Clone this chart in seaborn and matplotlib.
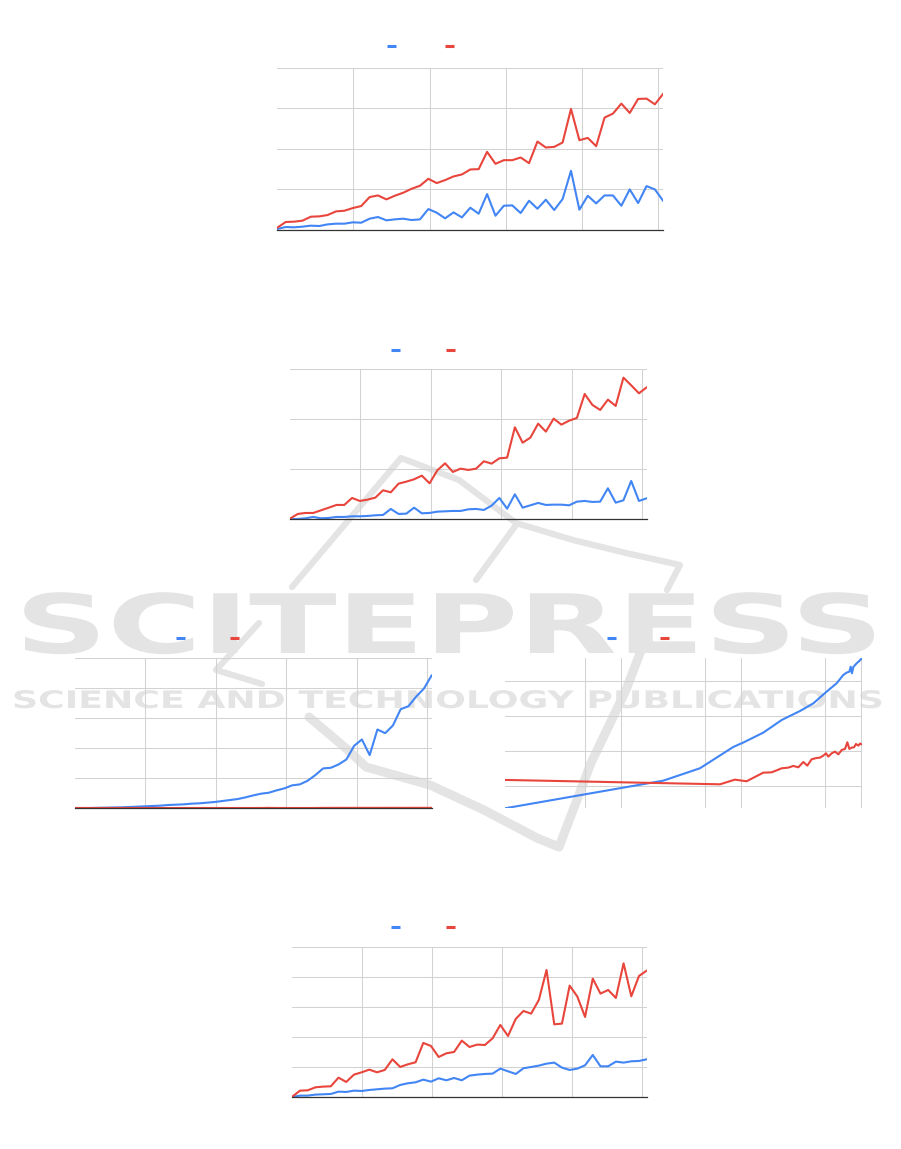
import numpy as np
import pandas as pd
import matplotlib
matplotlib.use("Agg")
import matplotlib.pyplot as plt
from matplotlib.lines import Line2D
from matplotlib.patheffects import AbstractPathEffect
from matplotlib.ticker import NullLocator
from matplotlib.transforms import Affine2D
import seaborn as sns

W, H = 901, 1149
BLUE = "#4285f4"
RED = "#e8453c"
GRID = "#d2d2d2"
MARK = "#e4e4e4"
GRID_STEP = 9.08          # vertical gridline spacing, in points along x

# ---- data ----
p1_blue = [2.5, 7.4, 6.6, 8.2, 10.7, 9.8, 13.9, 15.6, 15.6, 18.9, 18.0, 27.9, 32.0, 23.8, 26.2, 27.9,
           24.6, 26.2, 51.6, 42.6, 28.7, 43.4, 31.1, 54.9, 40.2, 88.5, 35.2, 59.8, 60.7, 41.8, 72.1, 52.5,
           74.6, 49.2, 76.2, 145.9, 50.0, 84.4, 65.6, 85.2, 85.2, 59.8, 100.0, 66.4, 108.2, 100.0, 71.3]
p1_red = [5.7, 19.7, 20.5, 23.0, 32.8, 33.6, 36.9, 45.9, 47.5, 54.1, 59.0, 81.1, 85.2, 75.4, 84.4, 91.8,
          101.6, 109.0, 126.2, 115.6, 123.0, 132.0, 136.9, 149.2, 150.0, 192.6, 163.1, 172.1, 172.1, 178.7,
          164.8, 218.0, 203.3, 204.9, 215.6, 298.4, 221.3, 227.0, 206.6, 277.0, 286.9, 311.5, 288.5, 323.0,
          323.8, 309.8, 336.0]

p2_blue = [0, 0.7, 2, 4.7, 2, 2.7, 4.7, 4.7, 6, 6, 6.7, 8, 8.7, 20.7, 10.7, 11.3, 23.3, 12, 12.7, 15.3,
           16, 16.7, 16.7, 20, 20.7, 18.7, 27.3, 42.7, 21.3, 50, 23.3, 28, 32.7, 28.7, 29.3, 29.3, 28, 35.3,
           36.7, 34.7, 35.3, 62, 33.3, 38, 76.7, 36.7, 42]
p2_red = [1.3, 10.7, 12.7, 12.7, 18, 23.3, 28.7, 28.7, 42.7, 36.7, 39.3, 43.3, 58, 54, 71.3, 75.3, 80,
          87.3, 72, 98, 112, 94.7, 101.3, 98.7, 101.3, 116, 111.3, 122, 123.3, 184, 153.3, 163.3, 191.3,
          175.3, 201.3, 189.3, 197.3, 202.7, 250.7, 228.7, 218.7, 239.3, 226.7, 283.3, 268, 252, 264]

p3_blue = [0, 0, 0, 0.6, 1.1, 1.7, 2.2, 3.3, 4.4, 5.6, 6.7, 7.8, 10, 11.1, 12.2, 14.4, 15.6, 17.8, 20,
           23.3, 26.7, 30, 35.6, 42.2, 47.8, 51.1, 58.9, 65.6, 75.6, 78.9, 91.1, 110, 132.2, 134.4, 145.6,
           162.2, 207.8, 228.9, 176.7, 262.2, 250, 275.6, 330, 340, 372.2, 398.9, 443.3]
p3_red = [0, 0, 0, 0, 0, 0, 0, 0, 0, 0, 0, 0, 0, 0, 0, 0, 0, 0, 0, 0, 0, 0, 0, 0, 0, 0.5, 0, 0, 0, 0,
          0, 0, 0.4, 0.4, 0.5, 0.4, 0.5, 0.5, 0.4, 0.5, 0.5, 0.6, 0.5, 0.5, 0.6, 0.5, 0.6]

p4_blue_x = [1.08, 22.5, 45.4, 86.1, 104, 153, 218, 310, 400, 516, 625, 711, 758, 798, 818, 839, 861,
             918, 966, 1011]
p4_blue_y = [2.35, 14.5, 32.7, 133, 177, 341, 785, 1419, 2350, 5070, 8770, 15200, 17700, 18900, 26200,
             16900, 25700, 32700, 38100, 45400]
p4_red_x = [1.08, 66.7, 88.9, 111, 153, 180, 218, 247, 272, 300, 330, 356, 387, 426, 454, 484, 510, 533,
            569, 606, 646, 689, 734, 768, 798, 834, 873, 906, 948, 979, 1011]
p4_red_y = [15.2, 11.4, 15.5, 13.9, 24.5, 25.1, 32.7, 34.1, 38.1, 34.9, 49.5, 38.9, 59.1, 64.5, 65.9,
            75.2, 87.7, 70.5, 87.7, 97.8, 82, 109, 117, 181, 117, 127, 130, 162, 145, 166, 158]

p5_blue = [1.1, 5.6, 5.6, 8.9, 10, 11.1, 18.9, 17.8, 22.2, 21.1, 24.4, 26.7, 28.9, 30, 41.1, 46.7, 50,
           58.9, 52.2, 63.3, 56.7, 64.4, 56.7, 72.2, 75.6, 77.8, 78.9, 95.6, 86.7, 77.8, 96.7, 101.1, 105.6,
           112.2, 115.6, 98.9, 91.1, 95.6, 106.7, 141.1, 103.3, 103.3, 118.9, 115.6, 120, 121.1, 126.7]
p5_red = [2.2, 22.2, 23.3, 33.3, 35.6, 36.7, 65.6, 51.1, 75.6, 83.3, 92.2, 83.3, 91.1, 126.7, 101.1, 110,
          116.7, 181.1, 171.1, 134.4, 146.7, 151.1, 188.9, 167.8, 175.6, 174.4, 196.7, 241.1, 204.4, 261.1,
          287.8, 278.9, 324.4, 424.4, 243.3, 245.6, 372.2, 335.6, 267.8, 395.6, 345.6, 357.8, 331.1, 446.7,
          336.7, 404.4, 422.2]

sns.set_style("white")
plt.rcParams["font.family"] = ["DejaVu Sans"]

fig = plt.figure(figsize=(W / 100, H / 100), dpi=100)


class Stretch(AbstractPathEffect):
    """Widen glyphs horizontally around a fixed x (display px)."""

    def __init__(self, sx, x0):
        super().__init__()
        self.sx, self.x0 = sx, x0

    def draw_path(self, renderer, gc, tpath, affine, rgbFace=None):
        affine = affine + Affine2D().translate(-self.x0, 0).scale(self.sx, 1).translate(self.x0, 0)
        renderer.draw_path(gc, tpath, affine, rgbFace)


def px_axes(left, top, right, bottom):
    ax = fig.add_axes([left / W, 1 - bottom / H, (right - left) / W, (bottom - top) / H])
    ax.patch.set_alpha(0)
    return ax


def style(ax, baseline=True):
    ax.set_xlabel("")
    ax.set_ylabel("")
    ax.tick_params(length=0, labelbottom=False, labelleft=False)
    ax.grid(True, color=GRID, lw=0.75)
    ax.set_axisbelow(True)
    for s in ["top", "right", "left"]:
        ax.spines[s].set_visible(False)
    if baseline:
        ax.spines["bottom"].set_color("#333333")
        ax.spines["bottom"].set_linewidth(0.9)
    else:
        ax.spines["bottom"].set_visible(False)


def keys(ax, kx, ky, gap):
    # legend swatches only, the labels are blank in the source
    handles = [Line2D([], [], color=BLUE, lw=2.2, solid_capstyle="butt"),
               Line2D([], [], color=RED, lw=2.2, solid_capstyle="butt")]
    ax.legend(handles, ["", ""], ncol=2, frameon=False, loc="center left",
              bbox_to_anchor=(kx / W, 1 - ky / H), bbox_transform=fig.transFigure,
              fontsize=8, handlelength=0.8, handletextpad=0, columnspacing=(gap - 9) / 11.1,
              borderpad=0, borderaxespad=0)


def trend_panel(rect, blue, red, ymax, kx, ky, gap):
    ax = px_axes(*rect)
    n = len(blue)
    idx = np.arange(n)
    df = pd.DataFrame({"i": np.r_[idx, idx], "v": np.r_[blue, red],
                       "s": ["series 1"] * n + ["series 2"] * n})
    sns.lineplot(data=df, x="i", y="v", hue="s", palette=[BLUE, RED], lw=1.5, legend=False, ax=ax)
    ax.set_xlim(0, n - 1)
    ax.set_ylim(0, ymax)
    ax.set_xticks(np.arange(1, 6) * GRID_STEP)
    ax.set_yticks(np.arange(0, ymax + 1, 100))
    style(ax)
    keys(ax, kx, ky, gap)
    return ax


def wide_text(s, x0, x1, y_base, size):
    r = fig.canvas.get_renderer()
    t = fig.text(x0 / W, 1 - y_base / H, s, fontsize=size, fontweight="bold", color=MARK,
                 ha="left", va="baseline", zorder=-2)
    w = t.get_window_extent(r).width
    t.set_path_effects([Stretch((x1 - x0) / w, x0)])


def stroke(xs, ys, lw):
    fig.add_artist(Line2D(np.array(xs) / W, 1 - np.array(ys) / H, transform=fig.transFigure,
                          color=MARK, lw=lw, zorder=-3, solid_capstyle="round",
                          solid_joinstyle="round"))


# ---- publisher watermark behind the charts ----
stroke([292, 401, 459, 516, 573, 626, 680, 667], [587, 458, 480, 523, 540, 553, 565, 590], 4.5)
stroke([476, 516], [580, 525], 4.5)
stroke([259, 216, 262], [623, 670, 684], 4.5)
stroke([309, 348, 366, 430, 484, 537, 559, 591, 626, 645],
       [717, 750, 767, 785, 810, 838, 847, 763, 690, 640], 6.5)
wide_text("SCITEPRESS", 15, 884, 653, 59)
wide_text("SCIENCE AND TECHNOLOGY PUBLICATIONS", 12, 884, 708, 17.4)

# ---- panels ----
trend_panel((277.3, 67.7, 663.3, 230.0), p1_blue, p1_red, 400, 386.7, 47.2, 58.3)
trend_panel((290.0, 369.3, 646.7, 519.3), p2_blue, p2_red, 300, 391.0, 350.5, 54.7)
trend_panel((75.0, 658.3, 431.7, 808.0), p3_blue, p3_red, 500, 176.0, 639.3, 54.0)
trend_panel((292.3, 947.3, 646.7, 1097.3), p5_blue, p5_red, 500, 391.0, 928.3, 54.7)

# log-log panel
ax4 = px_axes(505.0, 658.3, 861.7, 808.3)
sns.lineplot(x=p4_blue_x, y=p4_blue_y, color=BLUE, lw=1.5, ax=ax4)
sns.lineplot(x=p4_red_x, y=p4_red_y, color=RED, lw=1.5, ax=ax4)
ax4.set_xscale("log")
ax4.set_yscale("log")
ax4.set_xlim(min(p4_blue_x), max(p4_blue_x))
ax4.set_ylim(min(p4_blue_y), max(p4_blue_y))
ax4.set_xticks([5, 10, 50, 100, 500, 1000])
ax4.set_yticks([10, 100, 1000, 10000])
ax4.xaxis.set_minor_locator(NullLocator())
ax4.yaxis.set_minor_locator(NullLocator())
style(ax4, baseline=False)
keys(ax4, 606.7, 639.3, 53.5)

fig.savefig("out.png", dpi=100)
